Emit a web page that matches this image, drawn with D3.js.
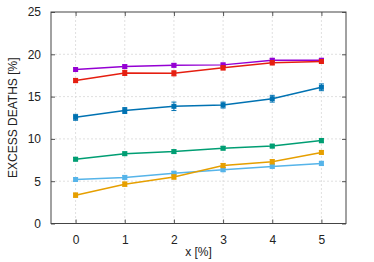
<!DOCTYPE html>
<html>
<head>
<meta charset="utf-8">
<script src="https://cdn.jsdelivr.net/npm/d3@7"></script>
<style>
  body { margin: 0; background: #fff; }
  text { font-family: "Liberation Sans", Arial, sans-serif; fill: #222; }
</style>
</head>
<body>
<svg id="chart" width="374" height="262"></svg>
<script>
// x positions, in %
var xs = [0, 1, 2, 3, 4, 5]

// one list per curve
var purple = [18.2, 18.55, 18.7, 18.75, 19.3, 19.3]
var red = [16.9, 17.8, 17.75, 18.4, 19.0, 19.15]
var blue = [12.55, 13.35, 13.85, 14.0, 14.75, 16.1]
var green = [7.6, 8.25, 8.5, 8.9, 9.15, 9.8]
var lightBlue = [5.2, 5.45, 5.95, 6.35, 6.75, 7.1]
var orange = [3.35, 4.65, 5.5, 6.85, 7.3, 8.4]

// half-width of error bars
var purpleErr = [0.2, 0.2, 0.2, 0.2, 0.2, 0.2]
var redErr = [0.25, 0.3, 0.3, 0.25, 0.25, 0.2]
var blueErr = [0.35, 0.35, 0.5, 0.35, 0.4, 0.4]
var greenErr = [0.2, 0.2, 0.2, 0.2, 0.2, 0.25]
var lightBlueErr = [0.2, 0.2, 0.2, 0.2, 0.2, 0.25]
var orangeErr = [0.25, 0.25, 0.25, 0.25, 0.25, 0.2]

var yTicks = [0, 5, 10, 15, 20, 25]

var series = [
  {color: "#9400d3", y: purple, err: purpleErr},
  {color: "#e51e10", y: red, err: redErr},
  {color: "#0072b2", y: blue, err: blueErr},
  {color: "#009e73", y: green, err: greenErr},
  {color: "#56b4e9", y: lightBlue, err: lightBlueErr},
  {color: "#e69f00", y: orange, err: orangeErr}
]

var svg = d3.select('#chart')
// plot box (don't call it "top", that's window.top)
var mLeft = 51, mRight = 346, mTop = 12, mBottom = 223.5

var x = d3.scaleLinear().domain([-0.5, 5.5]).range([mLeft, mRight])
var y = d3.scaleLinear().domain([0, 25]).range([mBottom, mTop])

// grid
var grid = svg.append("g")
grid.selectAll(".gx").data(xs).join("line")
  .attr("x1", d => x(d)).attr("x2", d => x(d))
  .attr("y1", mTop).attr("y2", mBottom)
  .attr("stroke", "#d8d8d8").attr("stroke-width", 0.8)
  .attr("stroke-dasharray", "2,2")
grid.selectAll(".gy").data(yTicks.slice(1, -1)).join("line")
  .attr("x1", mLeft).attr("x2", mRight)
  .attr("y1", d => y(d)).attr("y2", d => y(d))
  .attr("stroke", "#d8d8d8").attr("stroke-width", 0.8)
  .attr("stroke-dasharray", "2,2")

// axes, ticks pointing inward
svg.append("g").attr("transform", "translate(" + mLeft + ",0)")
  .call(d3.axisLeft(y).tickValues(yTicks).tickSize(-4).tickPadding(10))
svg.append("g").attr("transform", "translate(" + mRight + ",0)")
  .call(d3.axisRight(y).tickValues(yTicks).tickSize(-4).tickFormat(""))
svg.append("g").attr("transform", "translate(0," + mBottom + ")")
  .call(d3.axisBottom(x).tickValues(xs).tickFormat(d3.format("d")).tickSize(-4).tickPadding(12))
svg.append("g").attr("transform", "translate(0," + mTop + ")")
  .call(d3.axisTop(x).tickValues(xs).tickSize(-4).tickFormat(""))

svg.selectAll(".domain").remove()
svg.selectAll(".tick line").attr("stroke", "#555")
svg.selectAll(".tick text").attr("font-size", 12).attr("fill", "#222")
  .attr("font-family", "Liberation Sans, Arial, sans-serif")

// frame
svg.append("rect")
  .attr("x", mLeft).attr("y", mTop)
  .attr("width", mRight - mLeft).attr("height", mBottom - mTop)
  .attr("fill", "none").attr("stroke", "#444").attr("stroke-width", 1)

// curves
var line = d3.line().x((d, i) => x(xs[i])).y(d => y(d))
var curves = svg.append("g")
series.forEach(function(s) {
  var g = curves.append("g")
  g.append("path")
    .attr("d", line(s.y))
    .attr("fill", "none")
    .attr("stroke", s.color)
    .attr("stroke-width", 1.5)
  var pts = s.y.map((v, i) => ({x: xs[i], y: v, e: s.err[i]}))
  g.selectAll(".eb").data(pts).join("path")
    .attr("d", d => {
      var cx = x(d.x), y0 = y(d.y - d.e), y1 = y(d.y + d.e)
      return "M" + (cx - 2.5) + "," + y0 + "H" + (cx + 2.5) +
        "M" + (cx - 2.5) + "," + y1 + "H" + (cx + 2.5) +
        "M" + cx + "," + y0 + "V" + y1
    })
    .attr("stroke", s.color).attr("stroke-width", 1).attr("fill", "none")
  g.selectAll(".pt").data(pts).join("rect")
    .attr("x", d => x(d.x) - 2.5).attr("y", d => y(d.y) - 2.5)
    .attr("width", 5).attr("height", 5)
    .attr("fill", s.color)
})

// axis labels
svg.append("text")
  .attr("transform", "translate(17," + ((mTop + mBottom) / 2) + ") rotate(-90)")
  .attr("text-anchor", "middle")
  .attr("font-size", 12)
  .text("EXCESS DEATHS [%]")
svg.append("text")
  .attr("x", (mLeft + mRight) / 2).attr("y", 256)
  .attr("text-anchor", "middle")
  .attr("font-size", 12)
  .text("x [%]")
</script>
</body>
</html>
